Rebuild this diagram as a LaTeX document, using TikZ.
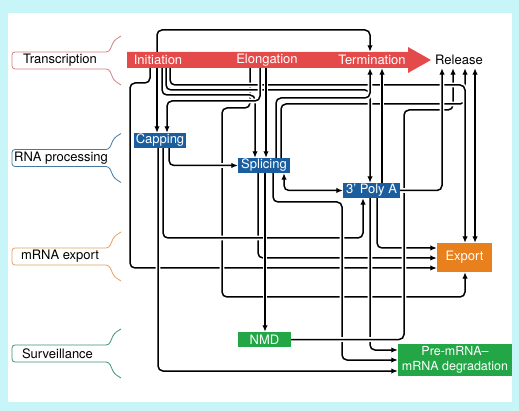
\documentclass[tikz,border=0pt]{standalone}
\usepackage{fontspec}
\setmainfont{TeX Gyre Heros}
\usetikzlibrary{arrows.meta}

\definecolor{frame}{RGB}{200,245,248}
\definecolor{bandred}{RGB}{228,74,74}
\definecolor{procblue}{RGB}{26,94,160}
\definecolor{exporange}{RGB}{232,128,30}
\definecolor{survgreen}{RGB}{34,166,70}
\definecolor{transline}{RGB}{214,128,128}
\definecolor{procline}{RGB}{70,120,160}
\definecolor{expline}{RGB}{226,164,100}
\definecolor{survline}{RGB}{60,150,110}

\tikzset{
  every node/.style={font=\fontsize{13}{15}\selectfont},
  band/.style={text=white, inner sep=0pt, minimum height=16pt},
  proc/.style={fill=procblue, text=white, inner sep=0pt, minimum height=15pt},
  surv/.style={fill=survgreen, text=white, inner sep=0pt},
  wire/.style={line width=1.5pt, rounded corners=5pt,
    preaction={draw=white, line width=4.8pt, arrows=-}},
  arr/.style={wire, -{Latex[length=6.5pt,width=5.5pt]}},
  dbl/.style={wire, {Latex[length=6.5pt,width=5.5pt]}-{Latex[length=6.5pt,width=5.5pt]}}
}

\begin{document}
\begin{tikzpicture}[x=1pt,y=-1pt]
\useasboundingbox (0,0) rectangle (519,411);
\fill[frame] (0,0) rectangle (519,411);
\fill[white] (8,13) rectangle (512,402);

% category brackets on the left
\foreach \yc/\col in {60.5/transline, 158/procline, 256.5/expline, 353.5/survline}
  \draw[\col, line width=0.8pt, rounded corners=3pt]
    (121,\yc-24.5) -- (114,\yc-20) -- (109,\yc-8.5) -- (12,\yc-8.5)
    -- (12,\yc+8.5) -- (109,\yc+8.5) -- (114,\yc+20) -- (121,\yc+24.5);
\node (transcrlbl) at (60,60.5) {Transcription};
\node (proclbl) at (61,158) {RNA processing};
\node (exportlbl) at (60,256.5) {mRNA export};
\node (survlbl) at (57.5,353.5) {Surveillance};

% transcription arrow
\fill[bandred] (127,52) -- (408,52) -- (408,47) -- (431,60) -- (408,73) -- (408,68) -- (127,68) -- cycle;
\node[band] (init) at (158,60) {Initiation};
\node[band] (elong) at (267,60) {Elongation};
\node[band] (term) at (372,60) {Termination};
\node[inner sep=0pt, minimum height=16pt] (release) at (459,60) {Release};

% machines
\node[proc, minimum width=52pt] (capping) at (160,140.5) {Capping};
\node[proc, minimum width=52pt] (splicing) at (264,165.5) {Splicing};
\node[proc, minimum width=57pt] (polya) at (371.5,190.5) {3' Poly A};
\node[fill=exporange, text=white, inner sep=0pt, minimum width=55pt, minimum height=29pt] (export) at (464.5,257.5) {Export};
\node[surv, minimum width=53pt, minimum height=15pt] (nmd) at (264.5,339.5) {NMD};
\node[surv, minimum width=114pt, minimum height=32pt, align=center,
  font=\fontsize{12.5}{15}\selectfont] (degr) at (455,360) {Pre-mRNA–\\mRNA degradation};

% coupling connectors
\draw[arr] (150,0 |- init.south) |- (130,83) -- (130,268) -- (export.west |- 0,268);
\draw[arr] (258,0 |- splicing.south) |- (export.west |- 0,258);
\draw[arr] (377,0 |- polya.south) |- (export.west |- 0,248);
\draw[arr] (250,0 |- elong.south) |- (222,108) -- (222,297) -| (465,0 |- export.south);
\draw[arr] (163,0 |- capping.south) |- (363,238) -- (363,0 |- polya.south);
\draw[arr] (273,0 |- splicing.south) |- (342,202) -- (342,360) -- (degr.west |- 0,360);
\draw[arr] (370,0 |- polya.south) |- (degr.west |- 0,350);
\draw[arr] (nmd.east) -| (404,110) -| (453,0 |- release.south);
\draw[arr] (281,0 |- splicing.north) |- (465,104) -- (465,0 |- release.south);
\draw[arr] (170,0 |- init.south) |- (465,85) -- (465,0 |- export.north);
\draw[arr] (166,0 |- init.south) |- (370,90) -- (370,0 |- polya.north);
\draw[arr] (276,0 |- splicing.north) |- (370,98) -- (370,0 |- term.south);
\draw[arr] (162,0 |- init.south) |- (255,95) -- (255,0 |- splicing.north);
\draw[arr] (260,0 |- elong.south) |- (167,101) -- (167,0 |- capping.north);
\draw[arr] (169,0 |- capping.south) |- (splicing.west);
\draw[dbl] (284,0 |- splicing.south) |- (polya.west);
\draw[arr] (157,0 |- init.north) |- (370,30) -- (370,0 |- term.north);
\draw[arr] (158,0 |- capping.south) |- (degr.west |- 0,371);
\draw[arr] (157,0 |- init.south) -- (157,0 |- capping.north);
\draw[arr] (266,0 |- elong.south) -- (266,0 |- splicing.north);
\draw[arr] (265,0 |- splicing.south) -- (265,0 |- nmd.north);
\draw[arr] (382,0 |- polya.north) -- (382,0 |- term.south);
\draw[arr] (polya.east) -| (442,0 |- release.south);
\draw[dbl] (475,0 |- export.north) -- (475,0 |- release.south);

\end{tikzpicture}
\end{document}
